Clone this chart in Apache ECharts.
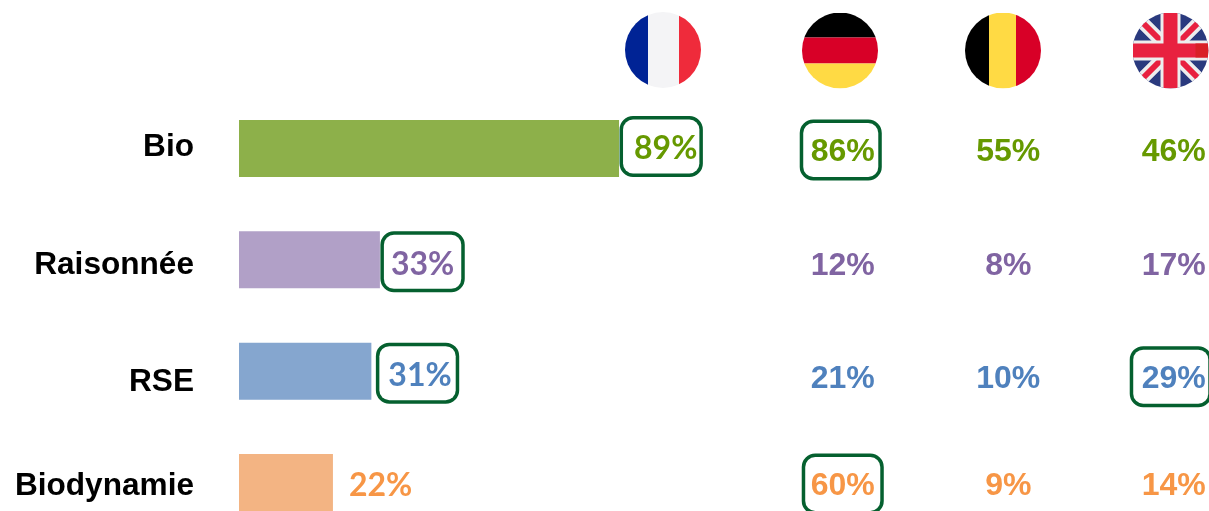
<!DOCTYPE html>
<html><head><meta charset="utf-8">
<style>html,body{margin:0;padding:0;background:#fff}#c{width:1209px;height:511px}</style>
<script src="https://cdn.jsdelivr.net/npm/echarts@6/dist/echarts.min.js"></script>
</head><body><div id="c"></div>
<script>
const methods = ['Bio', 'Raisonnée', 'RSE', 'Biodynamie'];
const countries = ['Allemagne', 'Belgique', 'Royaume-Uni'];
const france = [89, 33, 31, 22];
const germany = [86, 12, 21, 60];
const belgium = [55, 8, 10, 9];
const uk = [46, 17, 29, 14];
const franceBoxed = [true, true, true, false];
const germanyBoxed = [true, false, false, true];
const belgiumBoxed = [false, false, false, false];
const ukBoxed = [false, false, true, false];

const barColors = ['#8DB04A', '#B1A0C7', '#85A6CF', '#F3B483'];
const textColors = ['#669900', '#8064A2', '#4F81BD', '#F79646'];
const boxColor = '#05602F';
const rowLabelShift = [[0,0,3,0],[11,0,0,0],[23,0,0,0],[7,0,0,0]];
const franceShift = [[4,-2],[4,2],[8,2],[16,3]];
const francePadLR = [[11,2],[7,7],[9,4],[0,0]];
const germanySkew = [2, 0, 0, 0];
const ukSkew = [0, 0, 3, 0];
const columnShift = [3.5, 6.5, 8.5, 3.5];
const boxedShift = [1.5, 3.5, 5.5, 1.5];

function flag(body){
  return 'data:image/svg+xml;utf8,' + encodeURIComponent(
   '<svg xmlns="http://www.w3.org/2000/svg" width="76" height="76" viewBox="0 0 76 76"><defs><clipPath id="k"><circle cx="38" cy="38" r="38"/></clipPath></defs><g clip-path="url(#k)">'+body+'</g></svg>');
}
const flagFR = flag('<rect width="23" height="76" fill="#002395"/><rect x="23" width="31" height="76" fill="#F4F4F6"/><rect x="54" width="22" height="76" fill="#EF2B3B"/>');
const flagDE = flag('<rect width="76" height="25" fill="#000"/><rect y="25" width="76" height="26" fill="#D80027"/><rect y="51" width="76" height="25" fill="#FFDA44"/>');
const flagBE = flag('<rect width="24" height="76" fill="#000"/><rect x="24" width="27" height="76" fill="#FFDA44"/><rect x="51" width="25" height="76" fill="#D80027"/>');
const flagUK = flag('<rect width="76" height="76" fill="#2A3A7E"/><path d="M0 0L76 76M76 0L0 76" stroke="#EDEDED" stroke-width="13"/><path d="M8 8L68 68M68 8L8 68" stroke="#E8213F" stroke-width="6"/><path d="M38 0V76M0 38H76" stroke="#EDEDED" stroke-width="20"/><path d="M38 0V76M0 38H76" stroke="#E8213F" stroke-width="14"/><rect x="63" y="31" width="13" height="14" fill="#D92027"/>');

function boxedLabel(color, boxed, font, left, right, value){
  const l = {show:true, color, fontSize:32, fontWeight:700, fontFamily:font, formatter:value+'%'};
  if (boxed) Object.assign(l,{
    borderColor:boxColor,borderWidth:3.5,borderRadius:10,padding:[8.5,right,8.5,left],backgroundColor:'#fff',
    formatter:'{t|'+value+'%}',
    rich:{t:{color,fontSize:32,fontWeight:700,fontFamily:font,padding:[5,0,0,0]}}
  });
  return l;
}
function columnData(row){
  const cols = [germany,belgium,uk], boxes=[germanyBoxed,belgiumBoxed,ukBoxed], skews=[germanySkew,[0,0,0,0],ukSkew];
  return countries.map((c,i)=>{
    const boxed = boxes[i][row], s = skews[i][row], v = cols[i][row];
    return {
    value:[c,methods[row],v],
    label:Object.assign(boxedLabel(textColors[row],boxed,'"Liberation Sans",Arial,sans-serif',5.5+s,5.5-s,v),
      {position:'inside',offset:[boxed?-s:0,boxed?boxedShift[row]:columnShift[row]]})
  };});
}
const chart = echarts.init(document.getElementById('c'),null,{renderer:'canvas'});
const rich = {};
methods.forEach((m,i)=>{rich['r'+i]={fontSize:31.6,fontWeight:700,color:'#000',fontFamily:'"Liberation Sans",Arial,sans-serif',padding:rowLabelShift[i]};});
const yCommon = {type:'category',data:methods,inverse:true,axisLine:{show:false},axisTick:{show:false},splitLine:{show:false}};
chart.setOption({
  animation:false,
  backgroundColor:'#fff',
  grid:[
    {left:239,top:92.83,width:427,height:445.33,outerBoundsMode:'none'},
    {left:760,top:92.83,width:496.5,height:445.33,outerBoundsMode:'none'}
  ],
  xAxis:[
    {gridIndex:0,type:'value',min:0,max:100,show:false},
    {gridIndex:1,type:'category',data:countries,show:false}
  ],
  yAxis:[
    Object.assign({gridIndex:0,axisLabel:{margin:45,align:'right',formatter:(v,i)=>'{r'+i+'|'+v+'}',rich}},yCommon),
    Object.assign({gridIndex:1,axisLabel:{show:false}},yCommon)
  ],
  graphic:[[625,12,flagFR],[802,12.5,flagDE],[965,12.5,flagBE],[1132.5,12.5,flagUK]].map(f=>({
    type:'image',x:f[0],y:f[1],style:{image:f[2],width:76,height:76}})),
  series:[
    {type:'bar',name:'France',xAxisIndex:0,yAxisIndex:0,barWidth:57,
     data:france.map((v,i)=>({value:v,itemStyle:{color:barColors[i]},
       label:Object.assign(boxedLabel(textColors[i],franceBoxed[i],'Lato,sans-serif',francePadLR[i][0],francePadLR[i][1],v),
        {position:'right',distance:0,offset:franceShift[i]})}))},
    ...methods.map((m,r)=>({type:'scatter',name:m,xAxisIndex:1,yAxisIndex:1,symbolSize:1,
      itemStyle:{color:'rgba(0,0,0,0)',opacity:1},clip:false,data:columnData(r)}))
  ]
});
</script></body></html>
